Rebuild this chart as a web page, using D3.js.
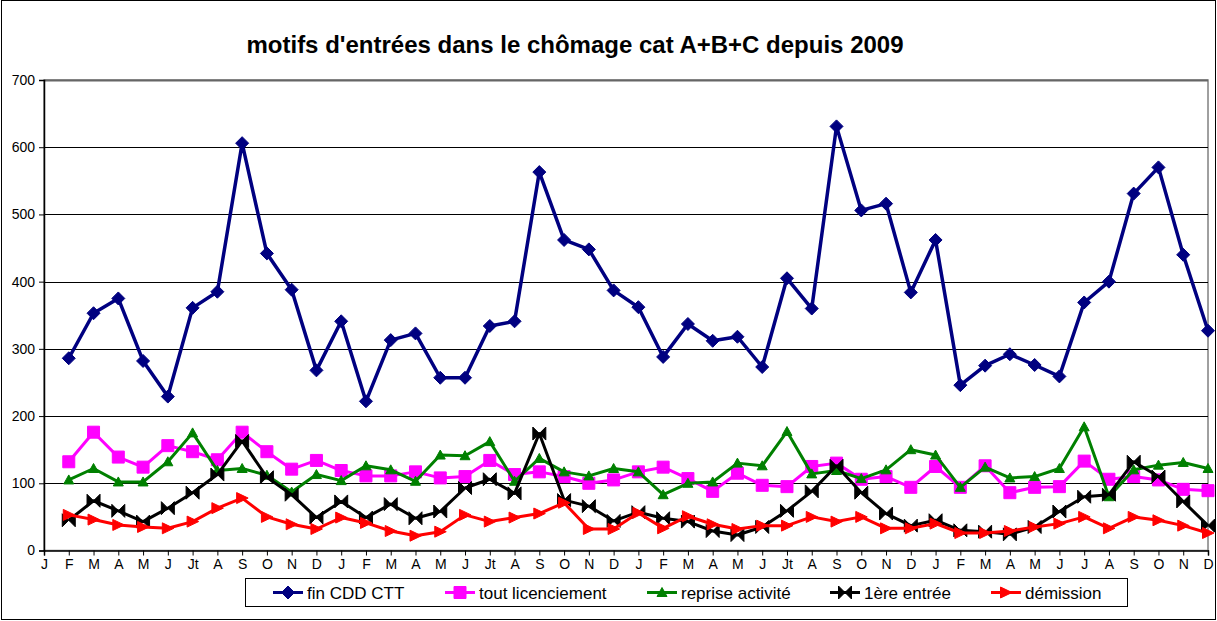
<!DOCTYPE html>
<html>
<head>
<meta charset="utf-8">
<script src="https://cdn.jsdelivr.net/npm/d3@7/dist/d3.min.js"></script>
<style>
  body { margin: 0; background: #fff; }
  text { font-family: "Liberation Sans", Arial, sans-serif; }
</style>
</head>
<body>
<div id="chart"></div>
<script>
// months, Jan 2009 -> Dec 2012 (no data in the first January)
const months = ["J","F","M","A","M","J","Jt","A","S","O","N","D",
                "J","F","M","A","M","J","Jt","A","S","O","N","D",
                "J","F","M","A","M","J","Jt","A","S","O","N","D",
                "J","F","M","A","M","J","J","A","S","O","N","D"];

const finCDD = [null,286,353,375,282,229,361,385,606,442,388,268,
                341,222,313,323,257,257,334,341,563,462,448,387,
                362,288,337,312,318,273,405,360,631,506,516,384,
                462,246,275,292,276,259,369,400,531,570,440,327];

const licenciement = [null,132,176,139,124,156,147,135,176,147,121,134,
                      119,111,111,117,108,110,134,113,117,110,100,105,
                      117,124,107,88,115,97,95,125,130,106,110,94,
                      125,94,126,86,94,95,133,106,110,105,91,89];

const reprise = [null,105,122,102,102,132,175,119,122,112,87,113,
                 104,126,120,103,142,141,162,103,137,117,111,122,
                 117,83,100,102,130,126,177,114,119,107,120,150,
                 142,94,124,108,110,122,184,80,120,127,131,122];

const premiere = [null,45,74,59,43,63,86,113,163,109,83,49,
                  73,49,69,48,58,93,106,85,174,75,66,44,
                  57,48,43,29,23,35,59,88,126,86,55,37,
                  45,30,28,24,35,58,80,83,132,110,73,37];

const demission = [null,53,46,38,35,33,43,63,78,50,39,32,
                   49,41,29,22,28,53,43,49,55,71,32,32,
                   56,33,51,39,32,37,37,50,43,50,33,33,
                   40,26,26,29,35,40,50,33,50,45,37,26];

const seriesNames = ["fin CDD CTT","tout licenciement","reprise activité","1ère entrée","démission"];
const yTicks = [0,100,200,300,400,500,600,700];

const W = 1217, H = 621;
const margin = {top: 80, right: 9, bottom: 70.5, left: 44};
const width = W - margin.left - margin.right;
const height = H - margin.top - margin.bottom;

const svg = d3.select("#chart")
  .append("svg")
  .attr("width", W)
  .attr("height", H);

// outer frame
svg.append("rect")
  .attr("x", 1.5).attr("y", 0.5)
  .attr("width", W - 3).attr("height", H - 2)
  .attr("fill", "#fff").attr("stroke", "#000").attr("stroke-width", 1);

svg.append("text")
  .attr("x", 575).attr("y", 53)
  .attr("text-anchor", "middle")
  .attr("font-size", 24)
  .attr("font-weight", "bold")
  .text("motifs d'entrées dans le chômage cat A+B+C depuis 2009");

const g = svg.append("g")
  .attr("transform", `translate(${margin.left}, ${margin.top})`);

const xScale = d3.scalePoint()
  .domain(d3.range(months.length))
  .range([0, width]);

const yScale = d3.scaleLinear()
  .domain([0, 700])
  .range([height, 0]);

// plot area border
g.append("rect")
  .attr("x", 0).attr("y", 0)
  .attr("width", width).attr("height", height)
  .attr("fill", "none").attr("stroke", "#808080").attr("stroke-width", 1.5);

// gridlines
g.selectAll(".grid")
  .data(yTicks.filter(d => d > 0))
  .enter()
  .append("line")
  .attr("class", "grid")
  .attr("x1", 0).attr("x2", width)
  .attr("y1", d => Math.round(yScale(d)) + 0.5)
  .attr("y2", d => Math.round(yScale(d)) + 0.5)
  .attr("stroke", d => d == 700 ? "#666" : "#000")
  .attr("stroke-width", d => d == 700 ? 2 : 1);

const yAxis = d3.axisLeft(yScale)
  .tickValues(yTicks)
  .tickSize(5)
  .tickPadding(4);

g.append("g")
  .attr("class", "y-axis")
  .call(yAxis)
  .call(s => s.select(".domain").attr("stroke", "#000").attr("stroke-width", 1.5))
  .selectAll("text")
  .attr("font-size", 14)
  .attr("fill", "#000");

const xAxis = d3.axisBottom(xScale)
  .tickFormat(i => months[i])
  .tickSize(5)
  .tickPadding(4);

g.append("g")
  .attr("class", "x-axis")
  .attr("transform", `translate(0, ${height})`)
  .call(xAxis)
  .call(s => s.select(".domain").attr("stroke", "#000").attr("stroke-width", 1.5))
  .selectAll("text")
  .attr("font-size", 14)
  .attr("fill", "#000");

// marker shapes
const markers = {
  diamond: "M0,-6.5L6.5,0L0,6.5L-6.5,0Z",
  square: "M-6,-6L6,-6L6,6L-6,6Z",
  triangle: "M0,-5L5,4L-5,4Z",
  bowtie: "M-6.5,-6.5L0,0L-6.5,6.5ZM6.5,-6.5L0,0L6.5,6.5Z",
  arrow: "M-5.5,-5.5L6,0L-5.5,5.5Z"
};

const series = [
  {name: seriesNames[0], values: finCDD, color: "#000080", marker: "diamond", lw: 3.5},
  {name: seriesNames[1], values: licenciement, color: "#FF00FF", marker: "square", lw: 3},
  {name: seriesNames[2], values: reprise, color: "#008000", marker: "triangle", lw: 3},
  {name: seriesNames[3], values: premiere, color: "#000000", marker: "bowtie", lw: 3},
  {name: seriesNames[4], values: demission, color: "#FF0000", marker: "arrow", lw: 3}
];

const line = d3.line()
  .defined(d => d != null)
  .x((d, i) => xScale(i))
  .y(d => yScale(d));

series.forEach(s => {
  g.append("path")
    .datum(s.values)
    .attr("fill", "none")
    .attr("stroke", s.color)
    .attr("stroke-width", s.lw)
    .attr("stroke-linejoin", "round")
    .attr("d", line);

  g.selectAll(null)
    .data(s.values.map((v, i) => ({v: v, i: i})).filter(d => d.v != null))
    .enter()
    .append("path")
    .attr("d", markers[s.marker])
    .attr("transform", d => `translate(${xScale(d.i)}, ${yScale(d.v)})`)
    .attr("fill", s.color)
    .attr("stroke", s.color)
    .attr("stroke-width", 1);
});

// legend
const legend = svg.append("g");
legend.append("rect")
  .attr("x", 245.5).attr("y", 578.5)
  .attr("width", 882).attr("height", 28)
  .attr("fill", "#fff").attr("stroke", "#000").attr("stroke-width", 1);

const legX = [273, 445, 647, 830, 991];

series.forEach((s, i) => {
  const x0 = legX[i];
  legend.append("line")
    .attr("x1", x0).attr("x2", x0 + 30)
    .attr("y1", 592.5).attr("y2", 592.5)
    .attr("stroke", s.color).attr("stroke-width", 3);
  legend.append("path")
    .attr("d", markers[s.marker])
    .attr("transform", `translate(${x0 + 15}, 592.5)`)
    .attr("fill", s.color).attr("stroke", s.color);
  legend.append("text")
    .attr("x", x0 + 34)
    .attr("y", 592.5)
    .attr("dy", "0.36em")
    .attr("font-size", 17)
    .text(s.name);
});
</script>
</body>
</html>
